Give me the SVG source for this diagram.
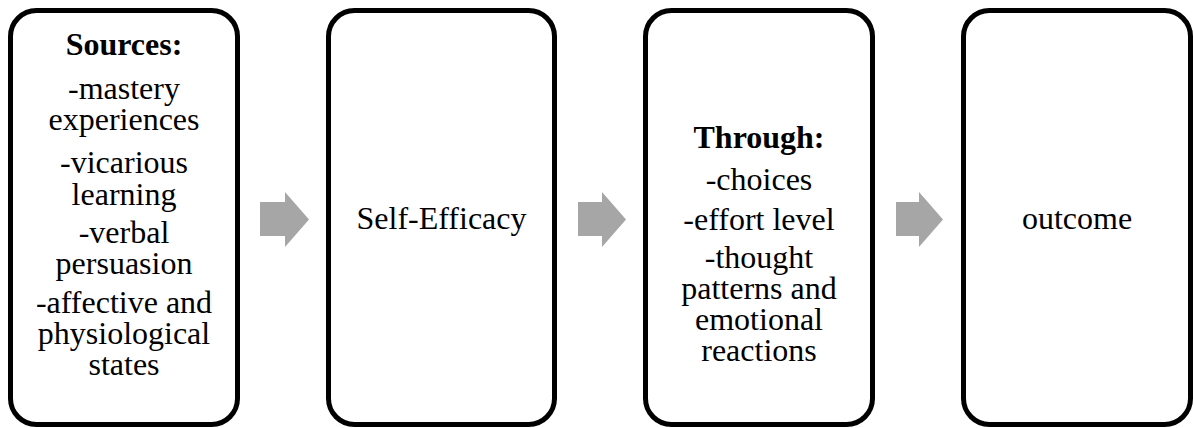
<svg xmlns="http://www.w3.org/2000/svg" width="1193" height="428" viewBox="0 0 1193 428">
<defs>
<style>
.box{fill:#ffffff;stroke:#000000;stroke-width:5}
.t{font-family:"Liberation Serif","Times New Roman",serif;font-size:32px;fill:#000000;text-anchor:middle}
.b{font-weight:bold}
.arr{fill:#a6a6a6}
</style>
</defs>
<rect width="1193" height="428" fill="#ffffff"/>
<g id="connectors">
<path class="arr" d="M260,202 H285 V192 L309,219.5 L285,247 V236 H260 Z"/>
<path class="arr" d="M578,202 H602 V192 L626,219.5 L602,247 V236 H578 Z"/>
<path class="arr" d="M896,202 H919 V192 L943,219.5 L919,247 V236 H896 Z"/>
</g>
<g id="sources">
<rect class="box" x="10.5" y="10.5" width="227" height="414" rx="26"/>
<text class="t b" x="124" y="55">Sources:</text>
<text class="t" x="124" y="99">-mastery</text>
<text class="t" x="124" y="130">experiences</text>
<text class="t" x="124" y="173">-vicarious</text>
<text class="t" x="124" y="205">learning</text>
<text class="t" x="124" y="243">-verbal</text>
<text class="t" x="124" y="274">persuasion</text>
<text class="t" x="124" y="313">-affective and</text>
<text class="t" x="124" y="344">physiological</text>
<text class="t" x="124" y="375">states</text>
</g>
<g id="self-efficacy">
<rect class="box" x="328.5" y="10.5" width="226" height="414" rx="26"/>
<text class="t" x="441.5" y="229">Self-Efficacy</text>
</g>
<g id="through">
<rect class="box" x="645.5" y="10.5" width="227" height="414" rx="26"/>
<text class="t b" x="759" y="148">Through:</text>
<text class="t" x="759" y="190">-choices</text>
<text class="t" x="759" y="230">-effort level</text>
<text class="t" x="759" y="268">-thought</text>
<text class="t" x="759" y="299">patterns and</text>
<text class="t" x="759" y="330">emotional</text>
<text class="t" x="759" y="361">reactions</text>
</g>
<g id="outcome">
<rect class="box" x="963.5" y="10.5" width="227" height="414" rx="26"/>
<text class="t" x="1077" y="229">outcome</text>
</g>
</svg>
